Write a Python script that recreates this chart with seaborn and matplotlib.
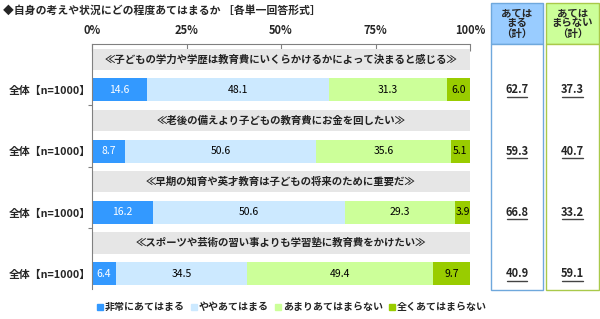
import matplotlib
matplotlib.use("Agg")
import matplotlib.pyplot as plt
from matplotlib.lines import Line2D
from matplotlib.patches import Rectangle
import matplotlib.transforms as mtransforms
import numpy as np
import pandas as pd
import seaborn as sns

# ---------------- data ----------------
title = "◆自身の考えや状況にどの程度あてはまるか ［各単一回答形式］"
statements = [
    "≪子どもの学力や学歴は教育費にいくらかけるかによって決まると感じる≫",
    "≪老後の備えより子どもの教育費にお金を回したい≫",
    "≪早期の知育や英才教育は子どもの将来のために重要だ≫",
    "≪スポーツや芸術の習い事よりも学習塾に教育費をかけたい≫",
]
row_label = "全体【n=1000】"
categories = ["非常にあてはまる", "ややあてはまる", "あまりあてはまらない", "全くあてはまらない"]
very_applies = [14.6, 8.7, 16.2, 6.4]
somewhat_applies = [48.1, 50.6, 50.6, 34.5]
not_really = [31.3, 35.6, 29.3, 49.4]
not_at_all = [6.0, 5.1, 3.9, 9.7]
total_applies = [62.7, 59.3, 66.8, 40.9]
total_not = [37.3, 40.7, 33.2, 59.1]
xtick_vals = [0, 25, 50, 75, 100]
xtick_labels = ["0%", "25%", "50%", "75%", "100%"]
box_headers = ["あては\nまる\n（計）", "あては\nまらない\n（計）"]

colors = ["#3399FF", "#CCE9FF", "#CCFF99", "#99CC00"]
band_color = "#E6E6E6"

sns.set_theme(style="white")
plt.rcParams["font.family"] = ["Noto Sans CJK JP", "DejaVu Sans"]
FS = 7.5

series = [very_applies, somewhat_applies, not_really, not_at_all]
n = len(statements)
band_ids = [f"b{i}" for i in range(n)]
bar_ids = [f"r{i}" for i in range(n)]
order = []
for i in range(n):
    order += [band_ids[i], bar_ids[i]]

fig = plt.figure(figsize=(6.0, 3.19), dpi=100)
ax = fig.add_axes([92 / 600, 1 - 289 / 319, (470 - 92) / 600, (289 - 44) / 319])

# bands (statement header backgrounds)
band_df = pd.DataFrame({"row": band_ids, "val": [100] * n})
sns.barplot(data=band_df, x="val", y="row", order=order, orient="h",
            color=band_color, saturation=1, width=0.69, linewidth=0, ax=ax)

# stacked bars via overlapping cumulative sums
vals = np.array(series)  # shape (4, n)
cums = np.cumsum(vals, axis=0)
for k in range(len(categories) - 1, -1, -1):
    df = pd.DataFrame({"row": bar_ids, "cum": cums[k]})
    sns.barplot(data=df, x="cum", y="row", order=order, orient="h",
                color=colors[k], saturation=1, width=0.75, linewidth=0, ax=ax)

# value labels
for i in range(n):
    ypos = order.index(bar_ids[i])
    for k in range(len(categories)):
        v = vals[k, i]
        c = cums[k, i] - v / 2
        ax.text(c, ypos, f"{v:.1f}", ha="center", va="center", fontsize=FS,
                color="white" if k == 0 else "black")
    ax.text(50, order.index(band_ids[i]), statements[i], ha="center", va="center",
            fontsize=FS, fontweight="bold", color="#222222")

ax.set_xlim(0, 100)
ax.set_ylim(len(order) - 0.5, -0.5)
ax.set_xlabel("")
ax.set_ylabel("")
ax.xaxis.tick_top()
ax.set_xticks(xtick_vals)
ax.set_xticklabels(xtick_labels, fontsize=FS + 0.5, fontweight="bold")
ax.tick_params(axis="x", direction="in", length=5, width=0.8, color="#808080", pad=5, top=True, bottom=False)
ax.set_yticks([order.index(b) for b in bar_ids])
ax.set_yticklabels([row_label] * n, fontsize=FS + 0.3, fontweight="bold")
ax.tick_params(axis="y", length=0, pad=1)
ax.set_yticks([1.5, 3.5, 5.5], minor=True)
ax.tick_params(axis="y", which="minor", length=3, width=0.8, color="#808080", left=True, direction="out")
for s in ["right", "bottom"]:
    ax.spines[s].set_visible(False)
for s in ["top", "left"]:
    ax.spines[s].set_color("#808080")
    ax.spines[s].set_linewidth(0.8)

fig.text(3 / 600, 1 - 10 / 319, title, ha="left", va="center", fontsize=FS + 0.3, fontweight="bold")

# right summary boxes
box_specs = [
    (491, 543, "#99CCFF", "#6FA8DC", total_applies),
    (546, 599, "#CCFF99", "#A9C94A", total_not),
]
top_y, head_y, bot_y = 3, 44, 290
blend = mtransforms.blended_transform_factory(fig.transFigure, ax.transData)
for j, (x0, x1, fill, edge, values) in enumerate(box_specs):
    fx0, fx1 = x0 / 600, x1 / 600
    fig.patches.append(Rectangle((fx0, 1 - head_y / 319), fx1 - fx0, (head_y - top_y) / 319,
                                 transform=fig.transFigure, facecolor=fill, edgecolor=edge, lw=1,
                                 zorder=-1))
    fig.patches.append(Rectangle((fx0, 1 - bot_y / 319), fx1 - fx0, (bot_y - head_y) / 319,
                                 transform=fig.transFigure, facecolor="white", edgecolor=edge, lw=1,
                                 zorder=-1))
    cx = (fx0 + fx1) / 2
    fig.text(cx, 1 - (top_y + head_y) / 2 / 319, box_headers[j], ha="center", va="center",
             fontsize=FS, fontweight="bold", linespacing=1.05)
    for i in range(n):
        ypos = order.index(bar_ids[i])
        ax.text(cx, ypos, f"{values[i]:.1f}", transform=blend, ha="center", va="center",
                fontsize=FS + 0.5, fontweight="bold", clip_on=False, zorder=5)
        ax.add_line(Line2D([cx - 10 / 600, cx + 10 / 600], [ypos + 0.23, ypos + 0.23],
                           transform=blend, color="#444444", lw=1.0, clip_on=False, zorder=5))

# legend
handles = [Line2D([], [], marker="s", linestyle="none", markersize=4, color=c) for c in colors]
fig.legend(handles, categories, loc="center", bbox_to_anchor=(291 / 600, 1 - 307 / 319), ncol=4,
           frameon=False, handletextpad=0.0, columnspacing=0.4,
           prop={"weight": "bold", "size": FS - 0.3}, handlelength=1.0, borderaxespad=0)

fig.savefig("out.png", dpi=100)
